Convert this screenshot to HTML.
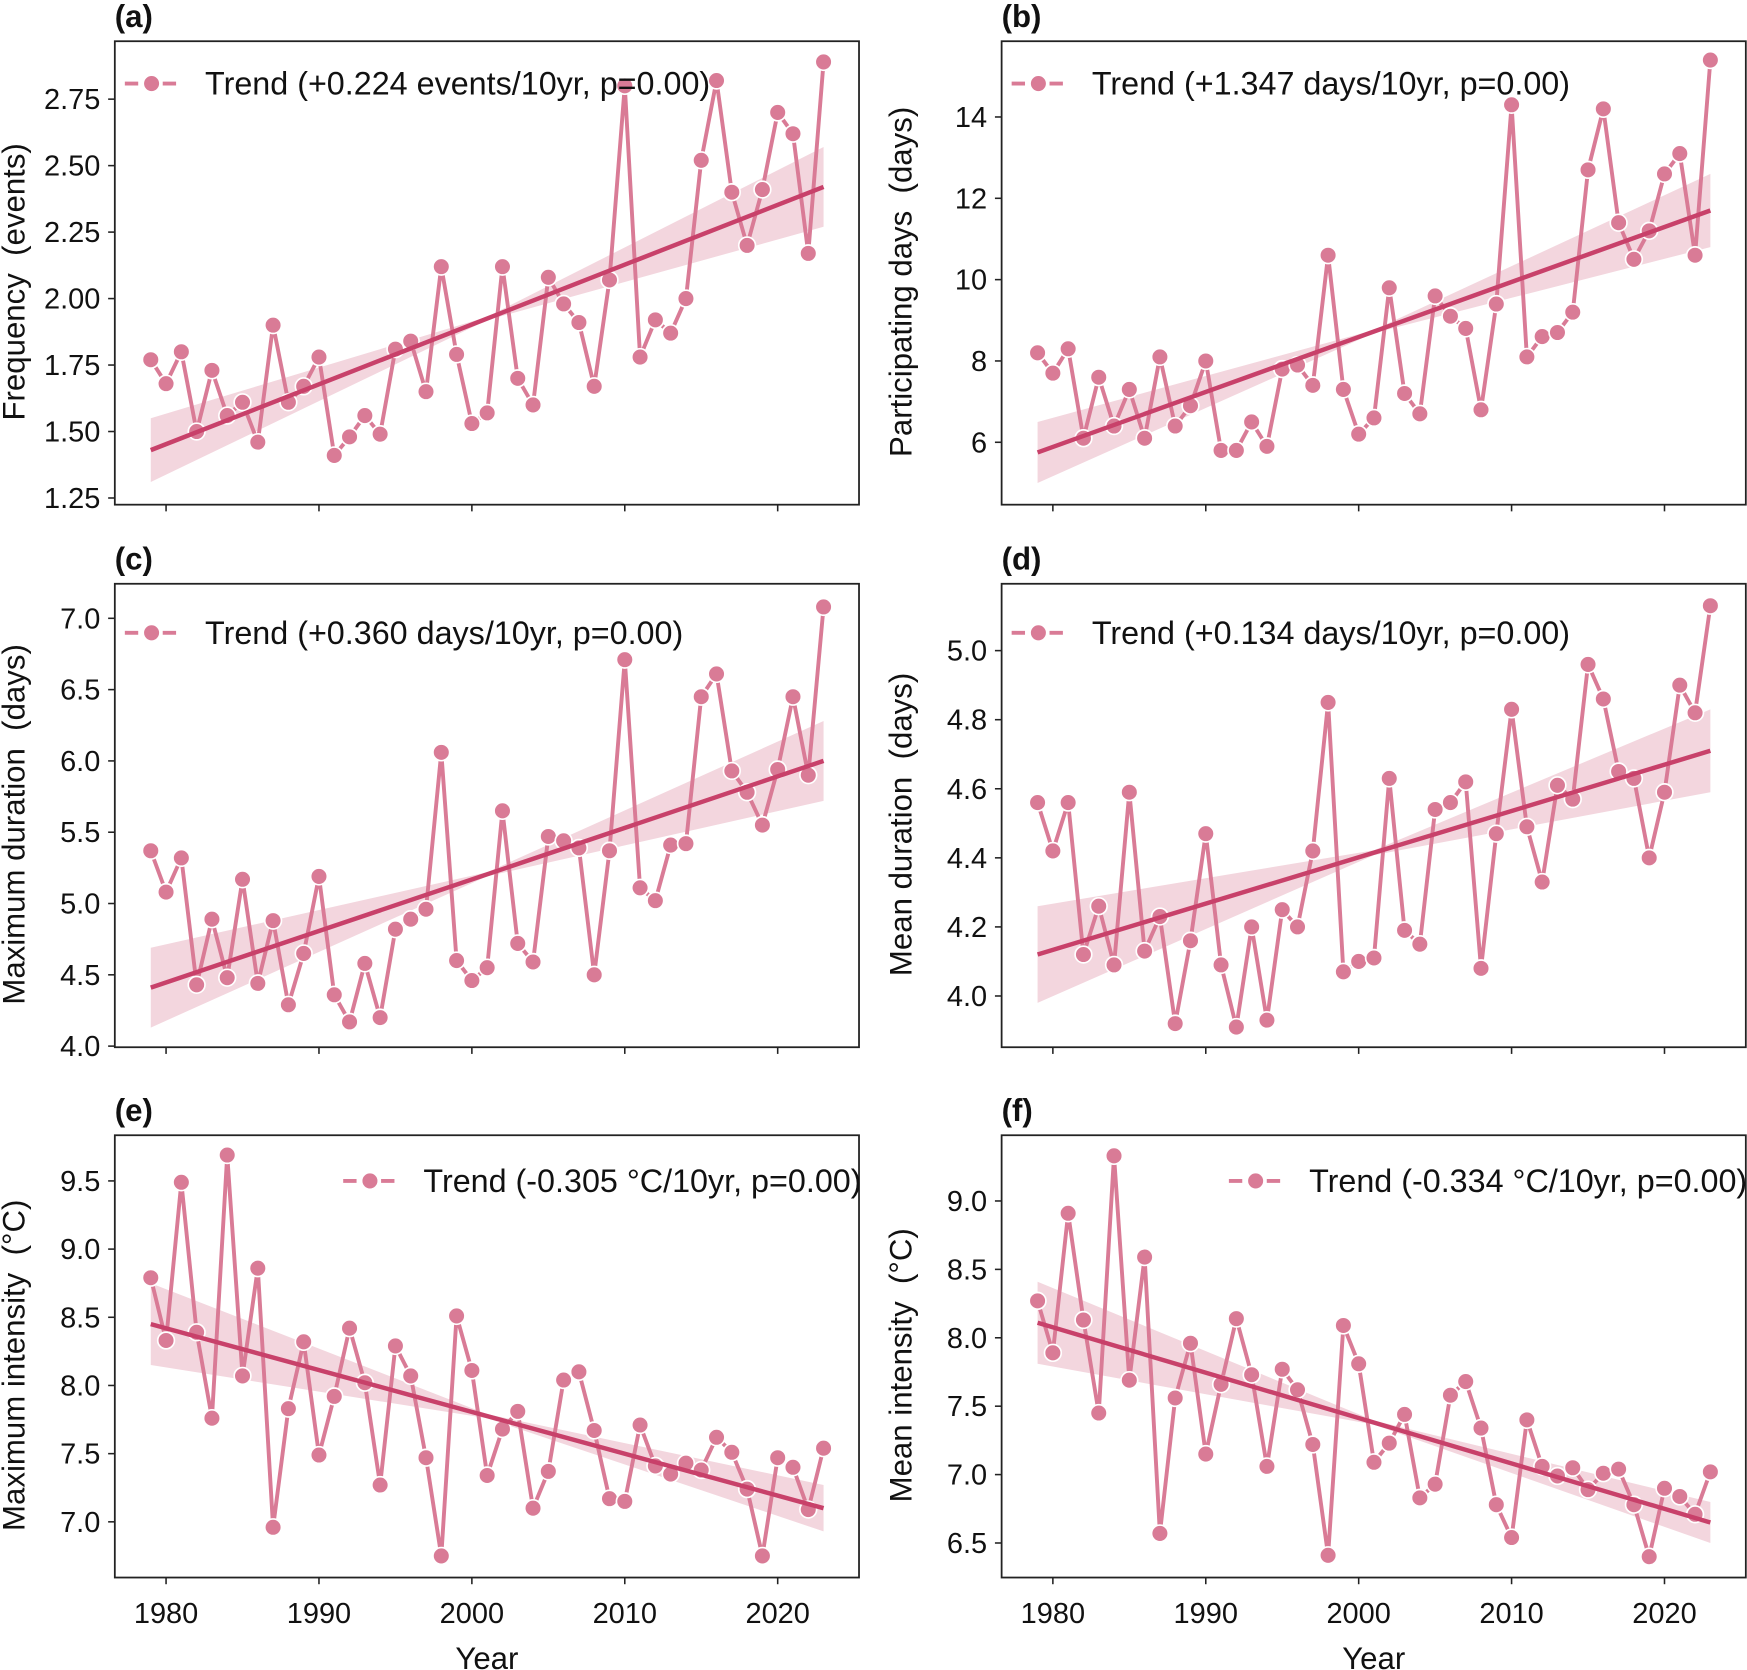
<!DOCTYPE html>
<html><head><meta charset="utf-8"><style>html,body{margin:0;padding:0;background:#fff}svg{display:block}text{font-family:"Liberation Sans",Arial,sans-serif;fill:#111}</style></head>
<body>
<svg id="s" width="1747" height="1670" viewBox="0 0 1568 1499" xmlns="http://www.w3.org/2000/svg"></svg>
<script>
const P=[
{L:103,T:37,B:453,lab:"(a)",yl:"Frequency  (events)",ticks:[[1.25,447],[2.75,89]],tv:[1.25,1.5,1.75,2.0,2.25,2.5,2.75],fmt:2,
d:[1.77,1.68,1.80,1.50,1.73,1.56,1.61,1.46,1.90,1.61,1.67,1.78,1.41,1.48,1.56,1.49,1.81,1.84,1.65,2.12,1.79,1.53,1.57,2.12,1.70,1.60,2.08,1.98,1.91,1.67,2.07,2.80,1.78,1.92,1.87,2.00,2.52,2.82,2.40,2.20,2.41,2.70,2.62,2.17,2.89],
tr:[1.43,2.42],bd:[0.12,0.15],leg:"Trend (+0.224 events/10yr, p=0.00)",lx:112},
{L:899,T:37,B:453,lab:"(b)",yl:"Participating days  (days)",ticks:[[6,397],[14,105]],tv:[6,8,10,12,14],fmt:0,
d:[8.2,7.7,8.3,6.1,7.6,6.4,7.3,6.1,8.1,6.4,6.9,8.0,5.8,5.8,6.5,5.9,7.8,7.9,7.4,10.6,7.3,6.2,6.6,9.8,7.2,6.7,9.6,9.1,8.8,6.8,9.4,14.3,8.1,8.6,8.7,9.2,12.7,14.2,11.4,10.5,11.2,12.6,13.1,10.6,15.4],
tr:[5.75,11.7],bd:[0.75,0.9],leg:"Trend (+1.347 days/10yr, p=0.00)",lx:908},
{L:103,T:524,B:940,lab:"(c)",yl:"Maximum duration  (days)",ticks:[[4,939],[7,555]],tv:[4,4.5,5,5.5,6,6.5,7],fmt:1,
d:[5.37,5.08,5.32,4.43,4.89,4.48,5.17,4.44,4.88,4.29,4.65,5.19,4.36,4.17,4.58,4.20,4.82,4.89,4.96,6.06,4.60,4.46,4.55,5.65,4.72,4.59,5.47,5.44,5.39,4.50,5.37,6.71,5.11,5.02,5.41,5.42,6.45,6.61,5.93,5.78,5.55,5.94,6.45,5.90,7.08],
tr:[4.41,6.0],bd:[0.28,0.28],leg:"Trend (+0.360 days/10yr, p=0.00)",lx:112},
{L:899,T:524,B:940,lab:"(d)",yl:"Mean duration  (days)",ticks:[[4,894],[5,584]],tv:[4,4.2,4.4,4.6,4.8,5.0],fmt:1,
d:[4.56,4.42,4.56,4.12,4.26,4.09,4.59,4.13,4.23,3.92,4.16,4.47,4.09,3.91,4.20,3.93,4.25,4.20,4.42,4.85,4.07,4.10,4.11,4.63,4.19,4.15,4.54,4.56,4.62,4.08,4.47,4.83,4.49,4.33,4.61,4.57,4.96,4.86,4.65,4.63,4.40,4.59,4.90,4.82,5.13],
tr:[4.12,4.71],bd:[0.14,0.12],leg:"Trend (+0.134 days/10yr, p=0.00)",lx:908},
{L:103,T:1019,B:1416,lab:"(e)",yl:"Maximum intensity  (°C)",ticks:[[7,1366],[9.5,1060]],tv:[7,7.5,8,8.5,9,9.5],fmt:1,
d:[8.79,8.33,9.49,8.39,7.76,9.69,8.07,8.86,6.96,7.83,8.32,7.49,7.92,8.42,8.02,7.27,8.29,8.07,7.47,6.75,8.51,8.11,7.34,7.68,7.81,7.10,7.37,8.04,8.10,7.67,7.17,7.15,7.71,7.41,7.35,7.43,7.38,7.62,7.51,7.24,6.75,7.47,7.40,7.09,7.54],
tr:[8.45,7.10],bd:[0.3,0.17],leg:"Trend (-0.305 °C/10yr, p=0.00)",lx:308},
{L:899,T:1019,B:1416,lab:"(f)",yl:"Mean intensity  (°C)",ticks:[[6.5,1385],[9,1078]],tv:[6.5,7,7.5,8,8.5,9],fmt:1,
d:[8.27,7.89,8.91,8.13,7.45,9.33,7.69,8.59,6.57,7.56,7.96,7.15,7.66,8.14,7.73,7.06,7.77,7.62,7.22,6.41,8.09,7.81,7.09,7.23,7.44,6.83,6.93,7.58,7.68,7.34,6.78,6.54,7.40,7.06,6.99,7.05,6.89,7.01,7.04,6.78,6.40,6.90,6.84,6.71,7.02],
tr:[8.11,6.65],bd:[0.3,0.15],leg:"Trend (-0.334 °C/10yr, p=0.00)",lx:1103}
];
let h="";
const LC="#d97b96",TC="#c8416a",BC="#f3d6de";
P.forEach((p,i)=>{
 const off=p.L-103, W=668;
 const X=y=>149+off+(y-1980)*13.725;
 const [a,b]=p.ticks; const Y=v=>a[1]+(v-a[0])*(b[1]-a[1])/(b[0]-a[0]);
 const x0=X(1979),x1=X(2023);
 h+=`<polygon points="${x0},${Y(p.tr[0]+p.bd[0])} ${(x0+x1)/2},${Y((p.tr[0]+p.tr[1])/2+0.05*Math.abs(p.bd[0]))} ${x1},${Y(p.tr[1]+p.bd[1])} ${x1},${Y(p.tr[1]-p.bd[1])} ${(x0+x1)/2},${Y((p.tr[0]+p.tr[1])/2-0.05*Math.abs(p.bd[0]))} ${x0},${Y(p.tr[0]-p.bd[0])}" fill="${BC}"/>`;
 h+=`<polyline fill="none" stroke="${LC}" stroke-width="3.5" stroke-linejoin="round" points="${p.d.map((v,k)=>X(1979+k)+","+Y(v)).join(" ")}"/>`;
 p.d.forEach((v,k)=>{h+=`<circle cx="${X(1979+k)}" cy="${Y(v)}" r="7.5" fill="${LC}" stroke="#fff" stroke-width="1.5"/>`});
 h+=`<line x1="${x0}" y1="${Y(p.tr[0])}" x2="${x1}" y2="${Y(p.tr[1])}" stroke="${TC}" stroke-width="4"/>`;
 h+=`<rect x="${p.L}" y="${p.T}" width="${W}" height="${p.B-p.T}" fill="none" stroke="#222" stroke-width="1.6"/>`;
 p.tv.forEach(v=>{const y=Y(v);h+=`<line x1="${p.L-6}" y1="${y}" x2="${p.L}" y2="${y}" stroke="#222" stroke-width="1.4"/><text x="${p.L-13}" y="${y+9}" font-size="26" text-anchor="end">${v.toFixed(p.fmt)}</text>`});
 for(let yr=1980;yr<=2020;yr+=10){const x=X(yr);h+=`<line x1="${x}" y1="${p.B}" x2="${x}" y2="${p.B+6}" stroke="#222" stroke-width="1.4"/>`;
  if(i>=4)h+=`<text x="${x}" y="${p.B+41}" font-size="26" text-anchor="middle">${yr}</text>`;}
 if(i>=4)h+=`<text x="${p.L+W/2}" y="${p.B+82}" font-size="28" text-anchor="middle">Year</text>`;
 h+=`<text x="${p.L}" y="${p.T-13}" font-size="28" font-weight="bold">${p.lab}</text>`;
 const cx=p.L-91, cy=(p.T+p.B)/2+8;
 h+=`<text transform="translate(${cx+10},${cy}) rotate(-90)" font-size="28" text-anchor="middle" xml:space="preserve">${p.yl}</text>`;
 const ly=i<2?75:i<4?568:1060;
 h+=`<line x1="${p.lx}" y1="${ly}" x2="${p.lx+48}" y2="${ly}" stroke="${LC}" stroke-width="3.5" stroke-dasharray="12,5"/><circle cx="${p.lx+24}" cy="${ly}" r="7.5" fill="${LC}" stroke="#fff" stroke-width="1.5"/><text x="${p.lx+72}" y="${ly+10}" font-size="29">${p.leg}</text>`;
});
document.getElementById("s").innerHTML=h;
</script>
</body></html>
